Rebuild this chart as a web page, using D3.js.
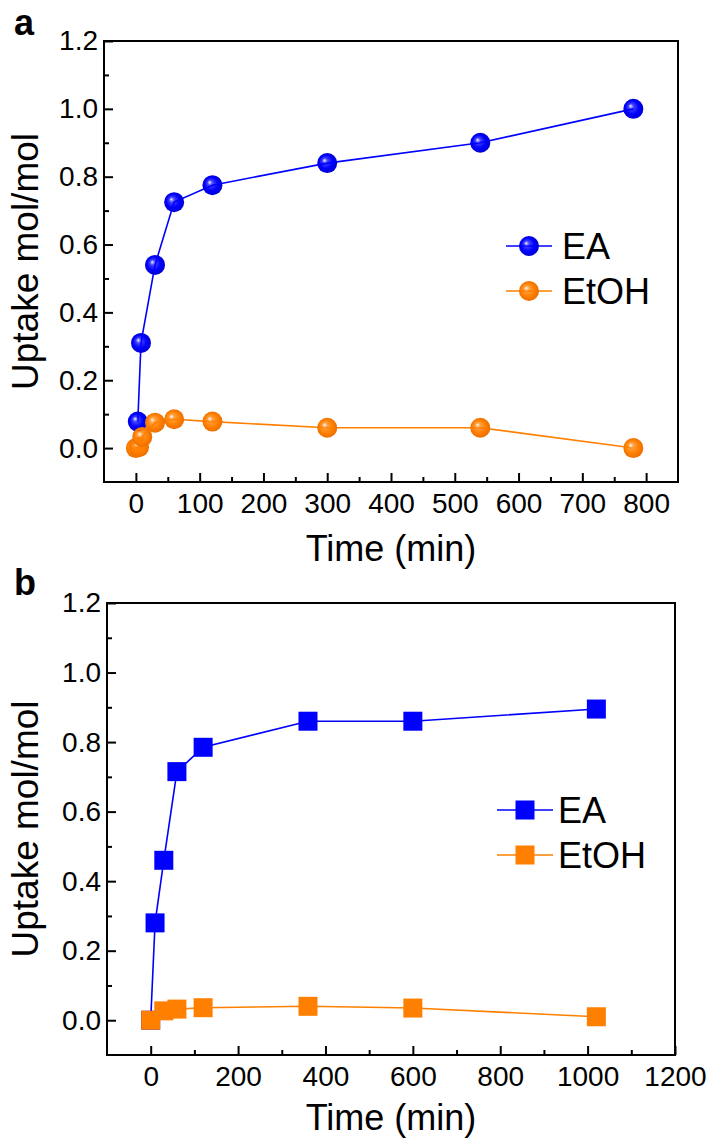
<!DOCTYPE html>
<html>
<head>
<meta charset="utf-8">
<script src="https://cdn.jsdelivr.net/npm/d3@7"></script>
<style>
  body { margin: 0; background: #fff; }
  svg { display: block; }
  text { font-family: Arial, "Liberation Sans", sans-serif; }
</style>
</head>
<body>
<svg id="chart" width="711" height="1140"></svg>
<script>
// panel a : spheres
const timeA_EA = [3, 8, 30, 60, 120, 300, 540, 780];
const uptakeA_EA = [0.078, 0.31, 0.54, 0.725, 0.775, 0.84, 0.90, 1.00];
const timeA_EtOH = [0, 5, 10, 30, 60, 120, 300, 540, 780];
const uptakeA_EtOH = [0.0, 0.003, 0.033, 0.075, 0.085, 0.078, 0.06, 0.06, 0.0];

// panel b : squares
const timeB_EA = [0, 10, 30, 60, 120, 360, 600, 1020];
const uptakeB_EA = [0.0, 0.28, 0.46, 0.715, 0.785, 0.86, 0.86, 0.895];
const timeB_EtOH = [0, 30, 60, 120, 360, 600, 1020];
const uptakeB_EtOH = [0.0, 0.027, 0.032, 0.036, 0.04, 0.035, 0.01];

const xTicksA = [0, 100, 200, 300, 400, 500, 600, 700, 800];
const xTicksB = [0, 200, 400, 600, 800, 1000, 1200];
const yTicks = [0, 0.2, 0.4, 0.6, 0.8, 1.0, 1.2];
const seriesNames = ["EA", "EtOH"];

const blue = "#0000ff", orange = "#ff8000";

const svg = d3.select("#chart");
const defs = svg.append("defs");

// shiny ball gradients
function ball(id, c, dark) {
  const g = defs.append("radialGradient").attr("id", id)
    .attr("cx", "50%").attr("cy", "50%").attr("r", "55%")
    .attr("fx", "35%").attr("fy", "35%");
  g.append("stop").attr("offset", "0%").attr("stop-color", "#ffffff");
  g.append("stop").attr("offset", "25%").attr("stop-color", c).attr("stop-opacity", 0.75);
  g.append("stop").attr("offset", "60%").attr("stop-color", c);
  g.append("stop").attr("offset", "100%").attr("stop-color", dark);
}
ball("ballBlue", blue, "#0000c8");
ball("ballOrange", orange, "#e86a00");

function panel(cfg) {
  const g = svg.append("g");
  const x = d3.scaleLinear().domain(cfg.xDomain).range([cfg.left, cfg.right]);
  const y = d3.scaleLinear().domain([-0.1, 1.2]).range([cfg.bottom, cfg.top]);

  // frame
  g.append("rect")
    .attr("x", cfg.left).attr("y", cfg.top)
    .attr("width", cfg.right - cfg.left).attr("height", cfg.bottom - cfg.top)
    .attr("fill", "none").attr("stroke", "#000").attr("stroke-width", 2);

  // x axis, ticks inside
  g.append("g").attr("transform", `translate(0,${cfg.bottom})`)
    .call(d3.axisBottom(x).tickValues(cfg.xTicks).tickSize(-9).tickPadding(11).tickFormat(d3.format("d")));
  g.append("g").attr("transform", `translate(0,${cfg.bottom})`)
    .call(d3.axisBottom(x).tickValues(cfg.xMinor).tickSize(-5).tickFormat(""));

  g.append("g").attr("transform", `translate(${cfg.left},0)`)
    .call(d3.axisLeft(y).tickValues(yTicks).tickSize(-9).tickPadding(6).tickFormat(d3.format(".1f")));
  g.append("g").attr("transform", `translate(${cfg.left},0)`)
    .call(d3.axisLeft(y).tickValues([0.1, 0.3, 0.5, 0.7, 0.9, 1.1]).tickSize(-5).tickFormat(""));

  g.selectAll(".domain").remove();
  g.selectAll(".tick line").attr("stroke", "#000").attr("stroke-width", 2);
  g.selectAll(".tick text").attr("fill", "#000").style("font-size", "28px");

  // axis titles
  g.append("text")
    .attr("x", (cfg.left + cfg.right) / 2).attr("y", Math.min(cfg.bottom + 79, 1130))
    .attr("text-anchor", "middle").style("font-size", "36px")
    .text("Time (min)");
  g.append("text")
    .attr("transform", `translate(38,${(cfg.top + cfg.bottom) / 2}) rotate(-90)`)
    .attr("text-anchor", "middle").style("font-size", "37px")
    .text("Uptake mol/mol");

  g.append("text")
    .attr("x", 14).attr("y", cfg.labelY)
    .style("font-size", "36px").style("font-weight", "bold")
    .text(cfg.label);

  const line = d3.line().x(d => x(d[0])).y(d => y(d[1]));
  const series = [
    { name: seriesNames[0], color: blue, fill: cfg.shape === "ball" ? "url(#ballBlue)" : blue,
      pts: d3.zip(cfg.t1, cfg.v1) },
    { name: seriesNames[1], color: orange, fill: cfg.shape === "ball" ? "url(#ballOrange)" : orange,
      pts: d3.zip(cfg.t2, cfg.v2) }
  ];

  function marker(sel, fill) {
    if (cfg.shape === "ball") {
      sel.append("circle").attr("r", 10).attr("fill", fill);
    } else {
      sel.append("rect").attr("x", -9.5).attr("y", -9.5)
        .attr("width", 19).attr("height", 19).attr("fill", fill);
    }
  }

  series.forEach(s => {
    g.append("path").datum(s.pts)
      .attr("d", line).attr("fill", "none")
      .attr("stroke", s.color).attr("stroke-width", 1.6);
  });
  series.forEach(s => {
    g.selectAll(null).data(s.pts).enter().append("g")
      .attr("transform", d => `translate(${x(d[0])},${y(d[1])})`)
      .each(function () { marker(d3.select(this), s.fill); });
  });

  // legend
  series.forEach((s, i) => {
    const ly = cfg.legY + i * 45;
    const lg = g.append("g").attr("transform", `translate(${cfg.legX},${ly})`);
    lg.append("line").attr("x1", -cfg.legHalf).attr("x2", cfg.legHalf)
      .attr("stroke", s.color).attr("stroke-width", 1.6);
    marker(lg, s.fill);
    lg.append("text").attr("x", 33).attr("y", 13)
      .style("font-size", "36px").text(s.name);
  });
}

panel({
  label: "a", labelY: 35, shape: "ball",
  left: 104, right: 678, top: 41, bottom: 482,
  xDomain: [-50, 850], xTicks: xTicksA,
  xMinor: [50, 150, 250, 350, 450, 550, 650, 750],
  t1: timeA_EA, v1: uptakeA_EA, t2: timeA_EtOH, v2: uptakeA_EtOH,
  legX: 529, legY: 246, legHalf: 23
});

panel({
  label: "b", labelY: 595, shape: "square",
  left: 107, right: 675, top: 603, bottom: 1055,
  xDomain: [-100, 1200], xTicks: xTicksB,
  xMinor: [100, 300, 500, 700, 900, 1100],
  t1: timeB_EA, v1: uptakeB_EA, t2: timeB_EtOH, v2: uptakeB_EtOH,
  legX: 525, legY: 810, legHalf: 28
});
</script>
</body>
</html>
